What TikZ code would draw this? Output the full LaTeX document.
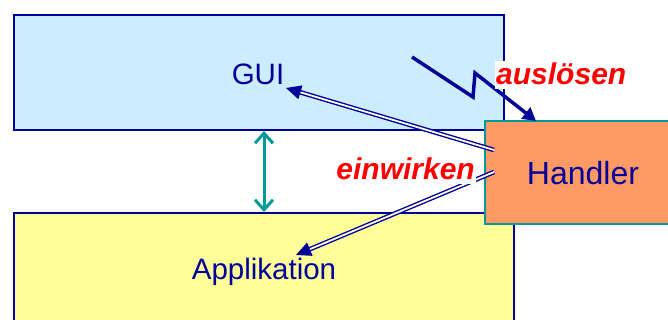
\documentclass[tikz,border=0pt]{standalone}
\usepackage{fontspec}
\setmainfont{Liberation Sans}
\usetikzlibrary{arrows.meta}
\definecolor{navy}{HTML}{000099}
\definecolor{guifill}{HTML}{CCECFF}
\definecolor{appfill}{HTML}{FFFF99}
\definecolor{handfill}{HTML}{FF9966}
\definecolor{tealc}{HTML}{009999}
\begin{document}
\begin{tikzpicture}[x=1pt,y=-1pt,
  boxtext/.style={text=navy,font=\fontsize{29.5}{31}\selectfont,inner sep=0pt},
  verb/.style={text=red,font=\fontsize{30}{32}\selectfont\bfseries\itshape,fill=white,inner xsep=1pt,inner ysep=2pt,text depth=0.2em},
  dbl/.style={draw=navy,line width=1.4pt,double=white,double distance=1.8pt,
    -{Triangle[length=15pt,width=14pt,fill=navy,color=navy]}},
  bolt/.style={draw=navy,line width=3.5pt,line join=miter,
    -{Triangle[length=13pt,width=14pt]}}]
\useasboundingbox (0,0) rectangle (668,320);
\clip (0,0) rectangle (668,320);
% layers
\fill[guifill] (14,15) rectangle (504,130);
\draw[navy,line width=1.8pt] (14,15) rectangle (504,130);
\fill[appfill] (14,213) rectangle (514,330);
\draw[navy,line width=1.8pt] (14,330) -- (14,213) -- (514,213) -- (514,330);
\node[boxtext] (gui) at (258,74) {GUI};
\node[boxtext] (app) at (264,272) {Applikation};
% teal double arrow
\coordinate (tA) at (264,131);
\coordinate (tB) at (264,212);
\draw[tealc,line width=3pt,{Straight Barb[length=10pt,width=18pt,line width=3pt]}-{Straight Barb[length=10pt,width=18pt,line width=3pt]}] (tA) -- (tB);
% handler
\node[draw=tealc,fill=handfill,line width=2pt,minimum width=184pt,minimum height=103pt,inner sep=0pt,anchor=north west] (hand) at (484,120) {};
\node[text=navy,font=\fontsize{32}{34}\selectfont,inner sep=0pt] (handtxt) at (583,173) {Handler};
% double arrows
\coordinate (h1) at (494,150);
\coordinate (h2) at (494,172);
\coordinate (g1) at (286,88);
\coordinate (a1) at (296,255);
\draw[dbl] (h1) -- (g1);
\draw[dbl] (h2) -- (a1);
% lightning
\coordinate (b0) at (412,57);
\coordinate (b1) at (473,97);
\coordinate (b2) at (475,73);
\coordinate (b3) at (536,121);
\draw[bolt] (b0) -- (b1) -- (b2) -- (b3);
% labels
\node[verb,anchor=base west] (ausl) at (495,85) {auslösen};
\node[verb,anchor=base east] (einw) at (476,180) {einwirken};
\end{tikzpicture}
\end{document}
